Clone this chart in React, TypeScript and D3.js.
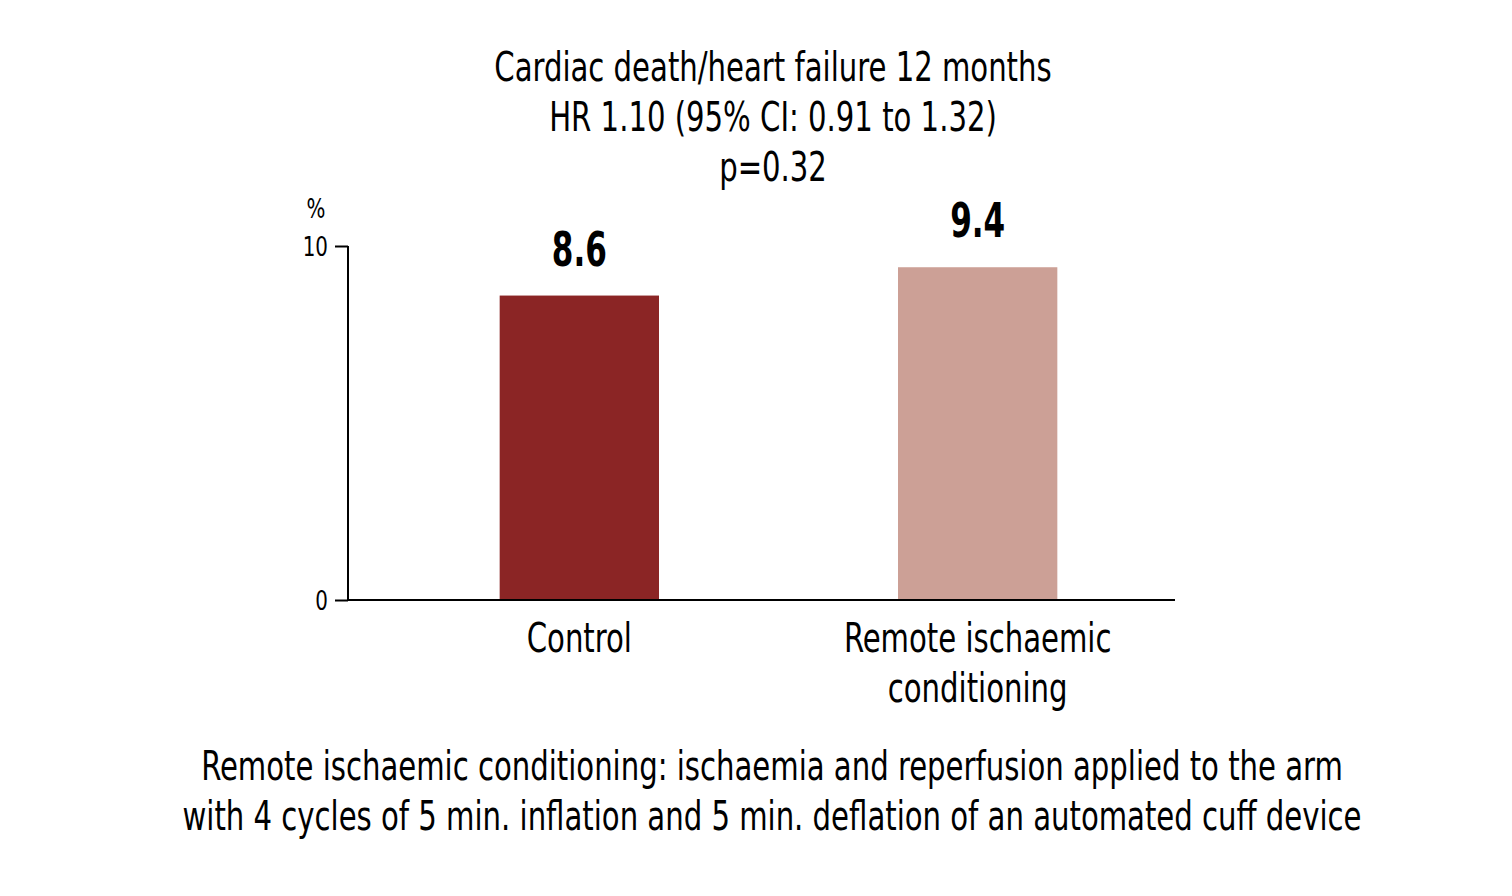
import { useEffect, useRef } from "react";
import * as d3 from "d3";

const categories = ["Control", "Remote ischaemic\nconditioning"];
const values = [8.6, 9.4];
const barColors = ["#8b2525", "#cca096"];
const yTicks = [0, 10];
const titleLines = [
  "Cardiac death/heart failure 12 months",
  "HR 1.10 (95% CI: 0.91 to 1.32)",
  "p=0.32",
];
const footnoteLines = [
  "Remote ischaemic conditioning: ischaemia and reperfusion applied to the arm",
  "with 4 cycles of 5 min. inflation and 5 min. deflation of an automated cuff device",
];

// no narrow font installed, so the condensed face is squeezed a bit more
const FONT = "'Liberation Sans Narrow', 'DejaVu Sans Condensed', sans-serif";
const SQUEEZE = 0.81;

type Sel = d3.Selection<SVGGElement, unknown, null, undefined>;

function addText(
  parent: Sel | d3.Selection<SVGSVGElement, unknown, null, undefined>,
  x: number,
  y: number,
  str: string,
  size: number,
  opts: { bold?: boolean; anchor?: string; sx?: number } = {}
) {
  return parent
    .append("text")
    .attr("transform", `translate(${x},${y}) scale(${opts.sx ?? SQUEEZE},1)`)
    .attr("text-anchor", opts.anchor ?? "middle")
    .attr("font-family", FONT)
    .attr("font-size", size)
    .attr("font-weight", opts.bold ? "bold" : "normal")
    .attr("fill", "#000")
    .text(str);
}

export default function App() {
  const svgRef = useRef<SVGSVGElement>(null);

  useEffect(() => {
    if (!svgRef.current) return;
    const svg = d3.select(svgRef.current);
    svg.selectAll("*").remove();

    const width = 1512;
    const height = 896;
    svg.attr("width", width).attr("height", height);

    const axisLeft = 348;
    const axisRight = 1175;
    const plotTop = 246;
    const plotBottom = 600;

    const x = d3.scaleBand<string>().domain(categories).range([420, 1137]).paddingInner(0.6).paddingOuter(0.2);
    const y = d3.scaleLinear().domain([0, 10]).range([plotBottom, plotTop]);

    // title
    titleLines.forEach((line, i) => addText(svg, 773, 81 + i * 50, line, 40));

    // bars
    svg
      .append("g")
      .selectAll("rect")
      .data(values)
      .enter()
      .append("rect")
      .attr("x", (_, i) => x(categories[i])!)
      .attr("y", (d) => y(d))
      .attr("width", x.bandwidth())
      .attr("height", (d) => y(0) - y(d))
      .attr("fill", (_, i) => barColors[i]);

    // value labels
    values.forEach((v, i) => {
      addText(svg, x(categories[i])! + x.bandwidth() / 2, y(v) - 30, v.toFixed(1), 48, { bold: true, sx: 0.72 });
    });

    // y axis
    const yAxis = svg
      .append("g")
      .attr("transform", `translate(${axisLeft},0)`)
      .call(d3.axisLeft(y).tickValues(yTicks).tickSize(13).tickFormat(() => ""));
    yAxis.select(".domain").attr("stroke", "#000").attr("stroke-width", 2).attr("d", `M0,${plotTop}V${plotBottom}`);
    yAxis.selectAll(".tick line").attr("stroke", "#000").attr("stroke-width", 2);
    yTicks.forEach((t) => addText(svg, axisLeft - 20, y(t) + 10, String(t), 26, { anchor: "end", sx: 0.85 }));

    // x axis line
    svg
      .append("line")
      .attr("x1", axisLeft)
      .attr("x2", axisRight)
      .attr("y1", plotBottom)
      .attr("y2", plotBottom)
      .attr("stroke", "#000")
      .attr("stroke-width", 2);

    addText(svg, 316, 218, "%", 26, { sx: 0.85 });

    // category labels
    categories.forEach((c) => {
      const cx = x(c)! + x.bandwidth() / 2;
      c.split("\n").forEach((line, j) => addText(svg, cx, 652 + j * 50, line, 40));
    });

    // footnote
    footnoteLines.forEach((line, i) => addText(svg, 772, 780 + i * 50, line, 40));
  }, []);

  return (
    <div style={{ position: "absolute", left: 0, top: 0 }}>
      <svg ref={svgRef} style={{ display: "block", background: "#fff" }} />
    </div>
  );
}
